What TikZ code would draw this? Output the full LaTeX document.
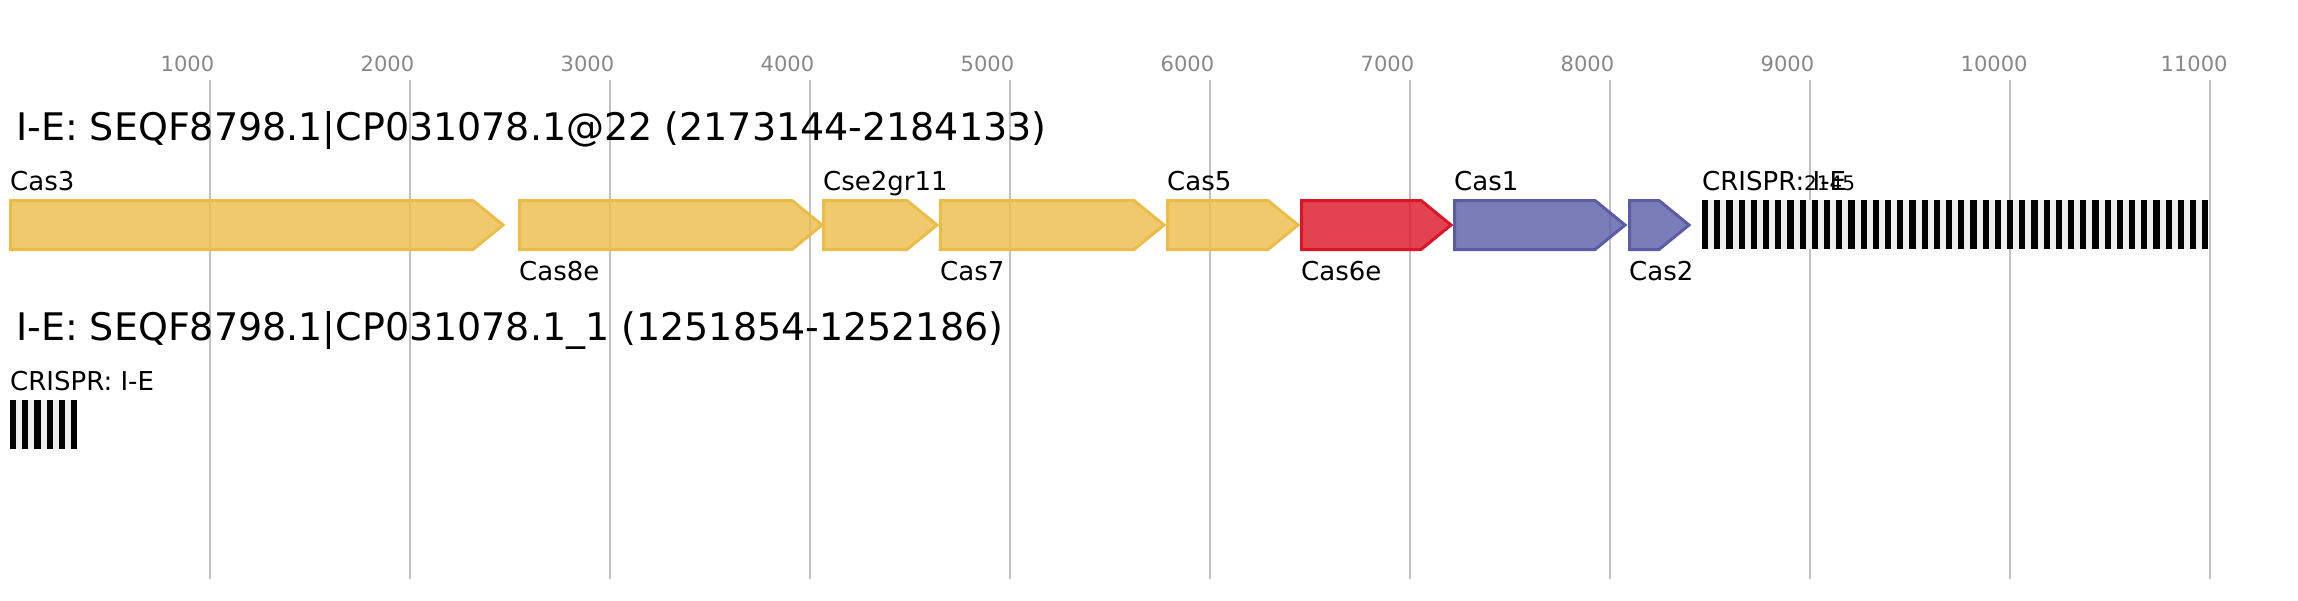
\documentclass[tikz,border=0pt]{standalone}
\usepackage{fontspec}
\setmainfont{DejaVu Sans}
\usepackage{xcolor}
\usepackage{tikz}
\usetikzlibrary{positioning}
\definecolor{genegold}{RGB}{236, 188, 72}
\definecolor{genered}{RGB}{220, 20, 38}
\definecolor{geneblue}{RGB}{90, 92, 166}
\definecolor{gridgrey}{RGB}{192, 192, 192}
\definecolor{tickgrey}{RGB}{136, 136, 136}
\definecolor{spacergrey}{RGB}{238, 238, 238}
\newcommand{\casgene}[3]{\draw[#3] (#1,200.5) -- (#2-30,200.5) -- (#2,225) -- (#2-30,249.5) -- (#1,249.5) -- cycle;}

\begin{document}
\begin{tikzpicture}[
    x=1pt, y=-1pt,
    gridline/.style={draw=gridgrey, line width=2pt},
    ticklabel/.style={anchor=base west, inner sep=0pt, text=tickgrey, font=\fontsize{21}{25}\selectfont},
    locus/.style={anchor=base west, inner sep=0pt, font=\fontsize{38}{45}\selectfont},
    genename/.style={anchor=base west, inner sep=0pt, font=\fontsize{26}{31}\selectfont},
    gene/.style={line width=3pt, fill opacity=0.8},
    core/.style={gene, draw=genegold, fill=genegold},
    cut/.style={gene, draw=genered, fill=genered},
    adapt/.style={gene, draw=geneblue, fill=geneblue}
]
\useasboundingbox (0,0) rectangle (2298,600);

\foreach \k in {1,...,11} {
    \draw[gridline] (10+200*\k,80) -- (10+200*\k,579);
    \node[ticklabel] (tick\k) at (10+200*\k-49.5,71) {\k000};
}

\node[locus] (locus1) at (16,140) {I-E: SEQF8798.1|CP031078.1@22 (2173144-2184133)};
\node[locus] (locus2) at (16,340) {I-E: SEQF8798.1|CP031078.1\_1 (1251854-1252186)};

\casgene{10.5}{503}{core}
\casgene{519.5}{822}{core}
\casgene{823.5}{937}{core}
\casgene{940.5}{1164}{core}
\casgene{1167.5}{1298}{core}
\casgene{1301.5}{1451}{cut}
\casgene{1454.5}{1625}{adapt}
\casgene{1629.5}{1689}{adapt}

\node[genename] (cas3) at (10,190) {Cas3};
\node[genename] (cas8e) at (519,280) {Cas8e};
\node[genename] (cse2) at (823,190) {Cse2gr11};
\node[genename] (cas7) at (940,280) {Cas7};
\node[genename] (cas5) at (1167,190) {Cas5};
\node[genename] (cas6e) at (1301,280) {Cas6e};
\node[genename] (cas1) at (1454,190) {Cas1};
\node[genename] (cas2) at (1629,280) {Cas2};

\fill[spacergrey] (1702,200) rectangle (2208,249);
\foreach \i in {0,...,41}
    \fill[black] (1702+12.2*\i,200) rectangle ++(6.1,49);
\node[genename] (array1) at (1702,190) {CRISPR: I-E};
\node[anchor=base west, inner sep=0pt, font=\fontsize{20}{24}\selectfont] (count1) at (1804,190) {2145};

\fill[spacergrey] (10,400) rectangle (77,449);
\foreach \i in {0,...,5}
    \fill[black] (10+12.2*\i,400) rectangle ++(6.1,49);
\node[genename] (array2) at (10,390) {CRISPR: I-E};

\end{tikzpicture}
\end{document}
